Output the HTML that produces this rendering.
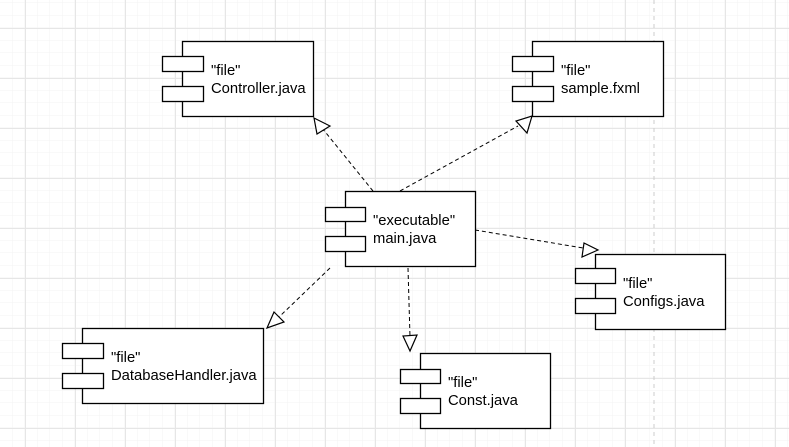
<!DOCTYPE html>
<html><head><meta charset="utf-8"><style>
body{margin:0;width:789px;height:447px;overflow:hidden;background:#fff}
svg{display:block}
text{font-family:"Liberation Sans",sans-serif;font-size:14.8px;fill:#000}
</style></head><body>
<svg width="789" height="447" xmlns="http://www.w3.org/2000/svg">
<defs>
<pattern id="mn" x="0" y="3" width="12.5" height="12.5" patternUnits="userSpaceOnUse"><path d="M12.5 0V12.5M0 12.5H12.5" stroke="#f3f3f3" stroke-width="1" fill="none"/></pattern>
<pattern id="mj" x="25" y="28" width="50" height="50" patternUnits="userSpaceOnUse"><path d="M0.5 0V50M0 0.5H50" stroke="#e6e6e6" stroke-width="1" fill="none"/></pattern>
</defs>
<rect width="789" height="447" fill="url(#mn)"/>
<rect width="789" height="447" fill="url(#mj)"/>
<line x1="654" y1="0" x2="654" y2="447" stroke="#ccc" stroke-dasharray="4,4"/>
<g stroke="#000" stroke-width="1" stroke-dasharray="4,3" fill="none">
<line x1="373" y1="191" x2="322" y2="128"/>
<line x1="400" y1="191" x2="518" y2="126"/>
<line x1="475" y1="230" x2="583" y2="248"/>
<line x1="408" y1="268" x2="410" y2="337"/>
<line x1="330" y1="268" x2="278" y2="318"/>
</g>
<g stroke="#000" stroke-width="1.2" fill="#fff">
<polygon points="314,118 330,126 317,134"/>
<polygon points="532,116 527,133 516,121"/>
<polygon points="598,250 582,257 584,243"/>
<polygon points="410,351 403,336 417,335"/>
<polygon points="267,328 274,312 284,322"/>
</g>
<g stroke="#000" stroke-width="1.3" fill="#fff">
<rect x="182.5" y="41.5" width="131" height="75"/><rect x="162.5" y="56.5" width="41" height="15"/><rect x="162.5" y="86.5" width="41" height="15"/>
<rect x="532.5" y="41.5" width="131" height="75"/><rect x="512.5" y="56.5" width="41" height="15"/><rect x="512.5" y="86.5" width="41" height="15"/>
<rect x="345.5" y="191.5" width="130" height="75"/><rect x="325.5" y="207.5" width="40" height="14"/><rect x="325.5" y="236.5" width="40" height="15"/>
<rect x="595.5" y="254.5" width="130" height="75"/><rect x="575.5" y="268.5" width="40" height="15"/><rect x="575.5" y="298.5" width="40" height="15"/>
<rect x="82.5" y="328.5" width="181" height="75"/><rect x="62.5" y="343.5" width="41" height="15"/><rect x="62.5" y="373.5" width="41" height="15"/>
<rect x="420.5" y="353.5" width="130" height="75"/><rect x="400.5" y="369.5" width="40" height="14"/><rect x="400.5" y="398.5" width="40" height="15"/>
</g>
<text x="211" y="75">"file"</text><text x="211" y="93">Controller.java</text>
<text x="561" y="75">"file"</text><text x="561" y="93">sample.fxml</text>
<text x="373" y="225">"executable"</text><text x="373" y="243">main.java</text>
<text x="623" y="288">"file"</text><text x="623" y="306">Configs.java</text>
<text x="111" y="362">"file"</text><text x="111" y="380">DatabaseHandler.java</text>
<text x="448" y="387">"file"</text><text x="448" y="405">Const.java</text>
</svg>
</body></html>
